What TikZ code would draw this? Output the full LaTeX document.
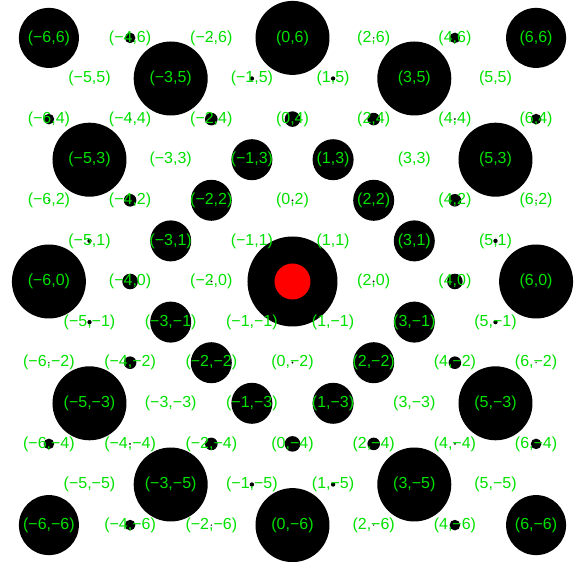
\documentclass[tikz,border=0pt]{standalone}
\usepackage{fontspec}
\setmainfont{Liberation Sans}
\definecolor{lab}{RGB}{0,225,0}
\tikzset{
  dot/.style={fill=black,draw=none},
  core/.style={fill=red,draw=none},
  lbl/.style={text=lab,font=\fontsize{16}{16}\selectfont,inner sep=0pt}
}
\newcommand\sgnnum[1]{\ifnum#1<0 −\number-#1\else\number#1\fi}
\expandafter\def\csname rad00\endcsname{45}
\expandafter\def\csname rad02\endcsname{1}
\expandafter\def\csname rad04\endcsname{7.8}
\expandafter\def\csname rad06\endcsname{37}
\expandafter\def\csname rad11\endcsname{0}
\expandafter\def\csname rad13\endcsname{20.5}
\expandafter\def\csname rad15\endcsname{2.2}
\expandafter\def\csname rad22\endcsname{20.5}
\expandafter\def\csname rad24\endcsname{6.3}
\expandafter\def\csname rad26\endcsname{0.7}
\expandafter\def\csname rad33\endcsname{0}
\expandafter\def\csname rad35\endcsname{37}
\expandafter\def\csname rad44\endcsname{1}
\expandafter\def\csname rad46\endcsname{5.3}
\expandafter\def\csname rad55\endcsname{0}
\expandafter\def\csname rad66\endcsname{30}
\begin{document}
\begin{tikzpicture}[x=40.6pt,y=40.6pt]
\useasboundingbox (-292.5pt,-280.5pt) rectangle (289.5pt,281.5pt);
% disks
\foreach \i in {-6,...,6}{
  \foreach \j in {-6,...,6}{
    \pgfmathtruncatemacro\pty{mod(abs(\i+\j),2)}
    \ifnum\pty=0
      \pgfmathtruncatemacro\ka{min(abs(\i),abs(\j))}
      \pgfmathtruncatemacro\kb{max(abs(\i),abs(\j))}
      \edef\rr{\csname rad\ka\kb\endcsname}
      \ifdim\rr pt>0pt
        \fill[dot] (\i,\j) circle[radius=\rr pt];
      \fi
    \fi
  }
}
% labels
\foreach \i in {-6,...,6}{
  \foreach \j in {-6,...,6}{
    \pgfmathtruncatemacro\pty{mod(abs(\i+\j),2)}
    \ifnum\pty=0
      \ifnum\i=0 \ifnum\j=0 \else
        \node[lbl] (p\i_\j) at (\i,\j) {(\sgnnum\i,\sgnnum\j)};
      \fi\else
        \node[lbl] (p\i_\j) at (\i,\j) {(\sgnnum\i,\sgnnum\j)};
      \fi
    \fi
  }
}
% centre
\fill[core] (0,0) circle[radius=18pt];
\end{tikzpicture}
\end{document}
